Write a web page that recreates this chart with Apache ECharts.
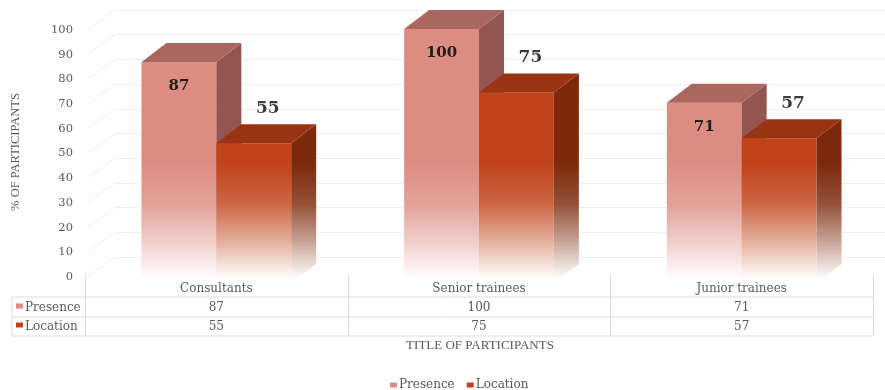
<!DOCTYPE html>
<html>
<head>
<meta charset="utf-8">
<script src="https://cdn.jsdelivr.net/npm/echarts@6/dist/echarts.min.js"></script>
<style>html,body{margin:0;padding:0;background:#fff}#c{width:885px;height:390px}</style>
</head>
<body>
<div id="c"></div>
<script>
const categories = ['Consultants', 'Senior trainees', 'Junior trainees'];
const seriesNames = ['Presence', 'Location'];
const presence = [87, 100, 71];
const locationVals = [55, 75, 57];
const xAxisTitle = 'TITLE OF PARTICIPANTS';
const yAxisTitle = '% OF PARTICIPANTS';

const FONT = '"DejaVu Serif", serif';
const TFONT = '"Liberation Serif", serif';
const TXT = '#595959';
const LINE = '#dcdcdc';
const frontCol = ['#DD8C81', '#C1431A'];
const topCol = ['#A9675F', '#9A3413'];
const sideCol = ['#93554F', '#7C2A0B'];
const DX = 25, DY = -19;

// layout
const PL = 85, PR = 873, FRONT_TOP = 29, FRONT_BOT = 283;
const TBL_L = 12, ROW_Y = [277, 297, 317, 336];

const chart = echarts.init(document.getElementById('c'), null, {renderer: 'canvas'});

function fadeGrad(col, yB) {
  const L = (t) => echarts.color.lerp(t, [col, '#ffffff']);
  return {type: 'linear', x: 0, y: yB - 120, x2: 0, y2: yB - 4, global: true,
    colorStops: [{offset: 0, color: col}, {offset: 0.35, color: L(0.18)}, {offset: 0.7, color: L(0.6)}, {offset: 1, color: '#ffffff'}]};
}

function barRender(si) {
  return function (params, api) {
    const ci = api.value(0), v = api.value(1);
    const t = api.coord([ci, v]);
    const b = api.coord([ci, 0]);
    const band = api.size([1, 0])[0];
    const bw = band * 0.285;
    const x0 = si === 0 ? t[0] - bw : t[0];
    const x1 = x0 + bw;
    const yT = t[1], yB = b[1];
    const children = [
      {type: 'rect', shape: {x: x0, y: yT, width: bw, height: yB - yT}, style: {fill: fadeGrad(frontCol[si], yB)}},
      {type: 'polygon', shape: {points: [[x1, yT], [x1 + DX, yT + DY], [x1 + DX, yB + DY], [x1, yB]]}, style: {fill: fadeGrad(sideCol[si], yB)}},
      {type: 'polygon', shape: {points: [[x0, yT], [x1, yT], [x1 + DX, yT + DY], [x0 + DX, yT + DY]]}, style: {fill: topCol[si]}}
    ];
    if (si === 0) {
      children.push({type: 'text', style: {text: String(v), x: x0 + bw / 2, y: yT + 24, align: 'center', verticalAlign: 'middle',
        font: 'bold 15px ' + FONT, fill: '#1e1e1e'}});
    } else {
      children.push({type: 'text', style: {text: String(v), x: x0 + bw / 2 + 14, y: yT - 35, align: 'center', verticalAlign: 'middle',
        font: 'bold 17px ' + FONT, fill: '#3c3c3c'}});
    }
    return {type: 'group', children};
  };
}

const ticks = [];
for (let v = 0; v <= 100; v += 10) ticks.push(v);

// table graphics
const graphics = [];
const colW = (PR - PL) / categories.length;
const rowMid = [288, 307.5, 326.5];
ROW_Y.slice(1).forEach(y => graphics.push({type: 'line', z: 100, shape: {x1: TBL_L, y1: y, x2: PR, y2: y}, style: {stroke: LINE, lineWidth: 1}}));
graphics.push({type: 'line', z: 100, shape: {x1: TBL_L, y1: ROW_Y[1], x2: TBL_L, y2: ROW_Y[3]}, style: {stroke: LINE}});
for (let i = 0; i <= categories.length; i++) {
  const x = Math.round(PL + i * colW) + 0.5;
  graphics.push({type: 'line', z: 100, shape: {x1: x, y1: ROW_Y[0] - 2, x2: x, y2: ROW_Y[3]}, style: {stroke: LINE}});
}
categories.forEach((c, i) => {
  const cx = PL + (i + 0.5) * colW;
  graphics.push({type: 'text', z: 100, style: {text: c, x: cx, y: rowMid[0] + 1, align: 'center', verticalAlign: 'middle', font: '12px ' + FONT, fill: TXT}});
  graphics.push({type: 'text', z: 100, style: {text: String(presence[i]), x: cx, y: rowMid[1], align: 'center', verticalAlign: 'middle', font: '12px ' + FONT, fill: TXT}});
  graphics.push({type: 'text', z: 100, style: {text: String(locationVals[i]), x: cx, y: rowMid[2], align: 'center', verticalAlign: 'middle', font: '12px ' + FONT, fill: TXT}});
});
seriesNames.forEach((n, i) => {
  const y = rowMid[i + 1];
  graphics.push({type: 'rect', z: 100, shape: {x: 16, y: y - 4, width: 7, height: 5}, style: {fill: frontCol[i]}});
  graphics.push({type: 'text', z: 100, style: {text: n, x: 25, y: y, align: 'left', verticalAlign: 'middle', font: '12px ' + FONT, fill: TXT}});
});
graphics.push({type: 'text', z: 100, style: {text: xAxisTitle, x: 480, y: 346, align: 'center', verticalAlign: 'middle', font: '13px ' + TFONT, fill: TXT}});
graphics.push({type: 'text', z: 100, rotation: Math.PI / 2, x: 16, y: 152, style: {text: yAxisTitle, x: 0, y: 0, align: 'center', verticalAlign: 'middle', font: '12.5px ' + TFONT, fill: TXT}});

const option = {
  backgroundColor: '#ffffff',
  animation: false,
  grid: [
    {left: PL, width: PR - PL, top: FRONT_TOP, height: FRONT_BOT - FRONT_TOP},
    {left: PL + 30, right: 0, top: 10, height: 247},
    {left: PL, width: 30, top: 30, height: 247}
  ],
  xAxis: [
    {gridIndex: 0, type: 'category', data: categories, show: false},
    {gridIndex: 1, type: 'value', show: false, min: 0, max: 1},
    {gridIndex: 2, type: 'value', show: false, min: 0, max: 1}
  ],
  yAxis: [
    {gridIndex: 0, type: 'value', min: 0, max: 100, interval: 10, show: false},
    {gridIndex: 1, type: 'value', min: 0, max: 100, interval: 10, axisLabel: {show: false}, axisLine: {show: false}, axisTick: {show: false},
      splitLine: {show: true, lineStyle: {color: '#efefef', width: 1}}},
    {gridIndex: 2, type: 'value', min: 0, max: 100, interval: 10, axisLine: {show: false}, axisTick: {show: false}, splitLine: {show: false},
      axisLabel: {margin: 12, fontFamily: FONT, fontSize: 11.5, color: TXT}}
  ],
  legend: {
    data: seriesNames, left: 385, top: 374, icon: 'rect', itemWidth: 7, itemHeight: 5, itemGap: 12,
    textStyle: {fontFamily: FONT, fontSize: 12, color: TXT, padding: [0, 0, 0, -3]}
  },
  series: [
    {type: 'custom', name: 'walls', xAxisIndex: 2, yAxisIndex: 2, silent: true, data: ticks.map(t => [0, t]),
      renderItem: function (params, api) {
        const p = api.coord([0, api.value(1)]);
        return {type: 'line', shape: {x1: p[0] + 2, y1: p[1], x2: p[0] + 30, y2: p[1] - 20}, style: {stroke: '#efefef', lineWidth: 1}};
      }},
    {type: 'custom', name: seriesNames[0], xAxisIndex: 0, yAxisIndex: 0, itemStyle: {color: frontCol[0]},
      data: categories.map((c, i) => [i, presence[i]]), renderItem: barRender(0)},
    {type: 'custom', name: seriesNames[1], xAxisIndex: 0, yAxisIndex: 0, itemStyle: {color: frontCol[1]},
      data: categories.map((c, i) => [i, locationVals[i]]), renderItem: barRender(1)}
  ],
  graphic: graphics
};
chart.setOption(option);
</script>
</body>
</html>
